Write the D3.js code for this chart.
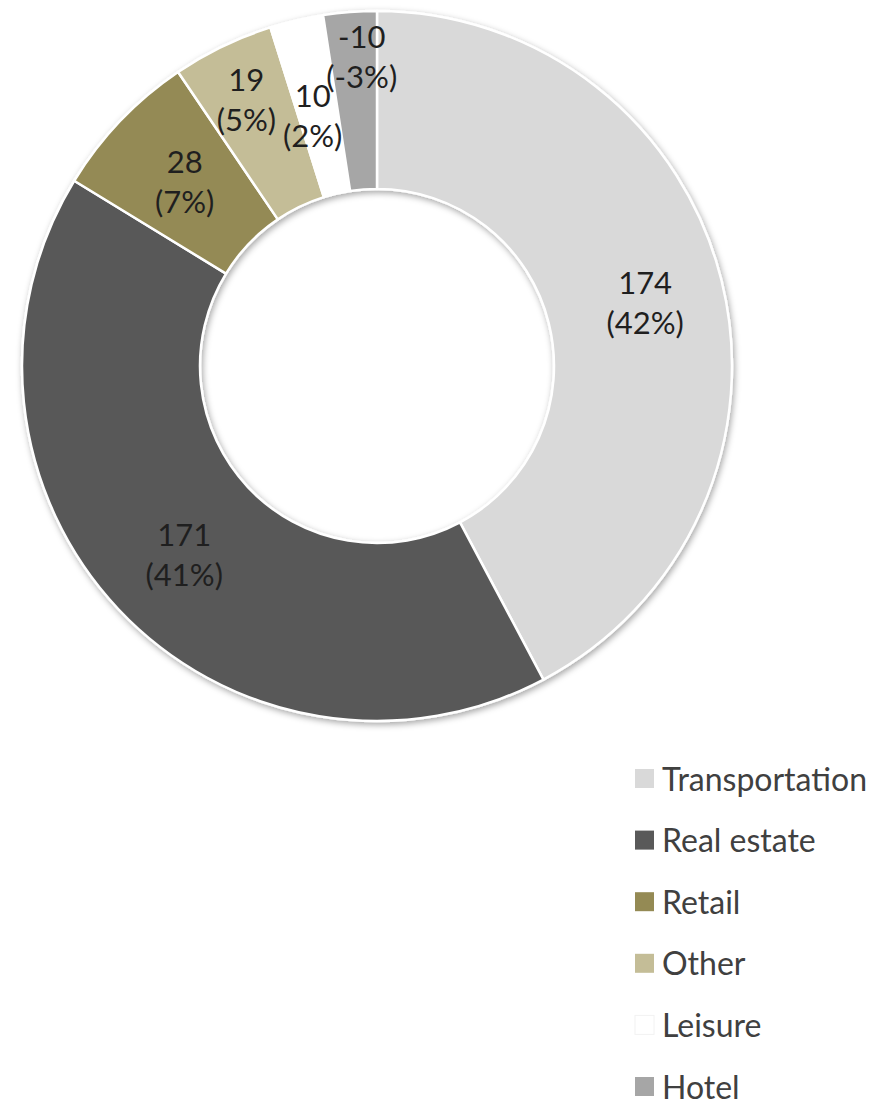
<!DOCTYPE html>
<html>
<head>
<meta charset="utf-8">
<script src="https://cdn.jsdelivr.net/npm/d3@7"></script>
<style>
  html, body { margin: 0; padding: 0; background: #fff; }
  #chart { width: 874px; height: 1109px; }
  text { font-family: Lato, "Open Sans", sans-serif; }
</style>
</head>
<body>
<div id="chart"></div>
<script>
//Datos del gráfico
let categories = ['Transportation', 'Real estate', 'Retail', 'Other', 'Leisure', 'Hotel'];
let values = [174, 171, 28, 19, 10, -10];
let percentLabels = ['42%', '41%', '7%', '5%', '2%', '-3%'];
let colors = ['#d9d9d9', '#595959', '#948a54', '#c4bd97', '#ffffff', '#a6a6a6'];

//Ajustes de posición de etiquetas (como en el original, algunas desplazadas)
let labelNudge = [[10, 1], [1, 7], [0, 0], [-15, -27], [-4, 9], [5, -44]];

let width = 874, height = 1109;
let cx = 377, cy = 366, outerR = 355, innerR = 177;

let svg = d3.select('#chart')
    .append('svg')
        .attr('width', width)
        .attr('height', height);

//Sombra suave del anillo
let defs = svg.append('defs');
let filter = defs.append('filter')
    .attr('id', 'shadow')
    .attr('x', '-10%').attr('y', '-10%')
    .attr('width', '120%').attr('height', '120%');
filter.append('feDropShadow')
    .attr('dx', 1.5).attr('dy', 2.5)
    .attr('stdDeviation', 3)
    .attr('flood-color', '#000')
    .attr('flood-opacity', 0.35);

let pie = d3.pie()
    .value(function(d) { return Math.abs(d.value); })
    .sort(null);

let data = categories.map(function(c, i) {
    return { key: c, value: values[i], pct: percentLabels[i], color: colors[i], nudge: labelNudge[i] };
});

let arcs = pie(data);

let arc = d3.arc().innerRadius(innerR).outerRadius(outerR);
let labelArc = d3.arc().innerRadius((innerR + outerR) / 2).outerRadius((innerR + outerR) / 2);

let g = svg.append('g')
    .attr('transform', 'translate(' + cx + ',' + cy + ')');

g.append('g')
    .attr('filter', 'url(#shadow)')
    .selectAll('path')
    .data(arcs)
    .enter()
    .append('path')
        .attr('d', arc)
        .attr('fill', function(d) { return d.data.color; })
        .attr('stroke', '#fff')
        .attr('stroke-width', 2.5)
        .attr('stroke-linejoin', 'round');

//Etiquetas de valores
let labels = g.selectAll('.label')
    .data(arcs)
    .enter()
    .append('text')
        .attr('class', 'label')
        .attr('text-anchor', 'middle')
        .attr('font-size', 31)
        .attr('fill', '#1f1f1f')
        .attr('transform', function(d) {
            let c = labelArc.centroid(d);
            return 'translate(' + (c[0] + d.data.nudge[0]) + ',' + (c[1] + d.data.nudge[1]) + ')';
        });

labels.append('tspan')
    .attr('x', 0)
    .attr('y', -20)
    .attr('dy', '0.36em')
    .text(function(d) { return d.data.value; });

labels.append('tspan')
    .attr('x', 0)
    .attr('y', 20)
    .attr('dy', '0.36em')
    .text(function(d) { return '(' + d.data.pct + ')'; });

//Leyenda
let legendY = d3.scalePoint()
    .domain(categories)
    .range([779, 1087]);

let legend = svg.append('g')
    .selectAll('g')
    .data(data)
    .enter()
    .append('g')
        .attr('transform', function(d) { return 'translate(635,' + legendY(d.key) + ')'; });

legend.append('rect')
    .attr('x', 0)
    .attr('y', -10)
    .attr('width', 19)
    .attr('height', 19)
    .attr('fill', function(d) { return d.color; })
    .attr('stroke', function(d) { return d.key == 'Leisure' ? '#f2f2f2' : 'none'; });

legend.append('text')
    .attr('x', 27)
    .attr('y', 0)
    .attr('dy', '0.36em')
    .attr('font-size', 32)
    .attr('fill', '#404040')
    .text(function(d) { return d.key; });
</script>
</body>
</html>
